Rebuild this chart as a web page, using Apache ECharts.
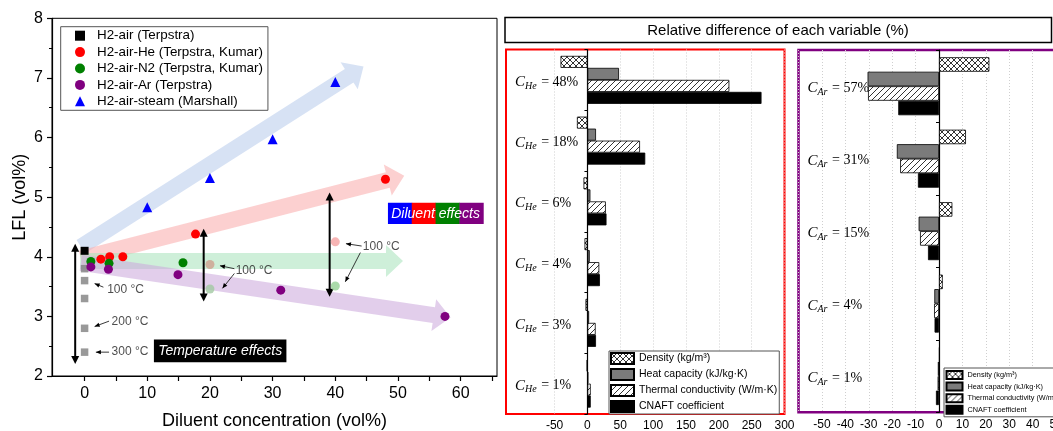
<!DOCTYPE html>
<html><head><meta charset="utf-8">
<script src="https://cdn.jsdelivr.net/npm/echarts@6/dist/echarts.min.js"></script>
<style>html,body{margin:0;padding:0;background:#fff}#c{width:1053px;height:431px}</style>
</head><body><div id="c"></div>
<script>
// ---------- Left chart data ----------
const legendNames = ['H2-air (Terpstra)','H2-air-He (Terpstra, Kumar)','H2-air-N2 (Terpstra, Kumar)','H2-air-Ar (Terpstra)','H2-air-steam (Marshall)'];
const h2air = [[0, 4.1]];
const h2airHe = [[2.6, 3.96],[4.0, 4.0],[6.1, 4.0],[17.7, 4.38],[48.0, 5.3]];
const h2airN2 = [[1.0, 3.92],[3.9, 3.89],[15.7, 3.9]];
const h2airAr = [[1.0, 3.83],[3.8, 3.79],[14.9, 3.7],[31.3, 3.44],[57.5, 3.0]];
const h2airSteam = [[10, 4.83],[20, 5.32],[30, 5.97],[40, 6.93]];
const tempPoints = [[0, 3.8],[0, 3.6],[0, 3.3],[0, 2.8],[0, 2.4]];
const hot100Points = [[20, 3.87],[20, 3.46],[40, 4.25],[40, 3.51]];
const xLabelValues = [0,10,20,30,40,50,60];
const xTickValues = [0,5,10,15,20,25,30,35,40,45,50,55,60,65];
// annotation geometry in data units: [x1,y1,x2(tip),y2(tip)]
const bandArrows = [[-0.6, 4.17, 44.5, 7.19],[-0.6, 3.97, 51.0, 5.36],[-0.7, 3.93, 50.8, 3.93],[-0.6, 3.9, 58.4, 2.98]];
const doubleArrows = [[-1.5, 2.2, -1.5, 4.22],[19.0, 3.25, 19.0, 4.47],[39.1, 3.33, 39.1, 5.08]];
const noteArrows = [[3.0, 3.49, 1.6, 3.55],[3.9, 2.92, 1.6, 2.83],[3.9, 2.4, 1.8, 2.4],[23.9, 3.8, 21.6, 3.85],[23.9, 3.72, 22.0, 3.47],[44.2, 4.18, 41.7, 4.22],[44.0, 4.07, 41.6, 3.58]];
const noteTextPos = [[3.6, 3.44],[4.3, 2.91],[4.3, 2.4],[24.1, 3.76],[44.4, 4.17]];
const noteTextNames = ['100 °C','200 °C','300 °C','100 °C','100 °C'];
const boxes = [[48.4, 4.906, 63.6, 4.55, 0],[11.06, 2.614, 32.2, 2.23, 1]];
const boxTexts = ['Diluent effects','Temperature effects'];

// ---------- Bar panels data ----------
const heCats = ['48%','18%','6%','4%','3%','1%'];
const heDensity = [-41, -16, -6, -4.5, -3, -1];
const heHeat = [48, 13, 4.5, 3.5, 2.5, 1.2];
const heThermal = [216, 80, 28, 18, 12.5, 5];
const heCnaft = [265, 88, 29, 19, 13, 5];
const arCats = ['57%','31%','15%','4%','1%'];
const arDensity = [21.5, 11.5, 5.7, 1.6, 0.3];
const arHeat = [-30.5, -18, -8.7, -2, -0.5];
const arThermal = [-30.3, -16.6, -8.1, -2.1, -0.6];
const arCnaft = [-17.4, -9, -4.7, -1.9, -1.3];
const barNames = ['Density (kg/m³)','Heat capacity (kJ/kg·K)','Thermal conductivity (W/m·K)','CNAFT coefficient'];
const heXLabels = [-50,0,50,100,150,200,250,300];

// ---------- styles / layout ----------
const SANS = '"Liberation Sans", Arial, sans-serif';
const SERIF = '"Liberation Serif", "DejaVu Serif", serif';
const bandColors = ['rgba(190,208,238,0.62)','rgba(250,170,170,0.55)','rgba(170,228,190,0.58)','rgba(205,170,220,0.58)'];
const hotColors = ['#cfa08f','#a3c9a3','#f5a3a3','#95d195'];
const heMin = -124, heMax = 300;
const midGrid = {left:506, top:49.5, width:278.5, height:364.5};
const hePx = midGrid.width / (heMax - heMin);
// helper grid sharing the He panel's x scale, starting at -50 so its 50-step grid lines match
const heGuideGrid = {left: midGrid.left + (-50 - heMin) * hePx, top: midGrid.top, width: 350 * hePx, height: midGrid.height};

function pattern(cross){
  const s = 6, c = document.createElement('canvas');
  c.width = s; c.height = s;
  const g = c.getContext('2d');
  g.fillStyle = '#fff'; g.fillRect(0,0,s,s);
  g.strokeStyle = '#000'; g.lineWidth = 0.8;
  g.beginPath();
  g.moveTo(0,s); g.lineTo(s,0);
  g.moveTo(-s/2,s/2); g.lineTo(s/2,-s/2);
  g.moveTo(s/2,1.5*s); g.lineTo(1.5*s,s/2);
  if (cross){
    g.moveTo(0,0); g.lineTo(s,s);
    g.moveTo(-s/2,s/2); g.lineTo(s/2,1.5*s);
    g.moveTo(s/2,-s/2); g.lineTo(1.5*s,s/2);
  }
  g.stroke();
  return c;
}
const barFills = [{image: pattern(true), repeat:'repeat'}, '#7b7b7b', {image: pattern(false), repeat:'repeat'}, '#000'];

function blockArrow(params, api){
  const p1 = api.coord([api.value(0), api.value(1)]);
  const p2 = api.coord([api.value(2), api.value(3)]);
  const dx = p2[0]-p1[0], dy = p2[1]-p1[1], L = Math.hypot(dx,dy);
  const ux = dx/L, uy = dy/L, nx = -uy, ny = ux;
  const hw = 8, HW = 16, HL = 17;
  const bx = p2[0]-ux*HL, by = p2[1]-uy*HL;
  const pts = [[p1[0]+nx*hw,p1[1]+ny*hw],[bx+nx*hw,by+ny*hw],[bx+nx*HW,by+ny*HW],[p2[0],p2[1]],[bx-nx*HW,by-ny*HW],[bx-nx*hw,by-ny*hw],[p1[0]-nx*hw,p1[1]-ny*hw]];
  return {type:'polygon', shape:{points:pts}, style:{fill: bandColors[params.dataIndex]}};
}
function head(tip, from, len, half){
  const dx = tip[0]-from[0], dy = tip[1]-from[1], L = Math.hypot(dx,dy);
  const ux = dx/L, uy = dy/L, nx = -uy, ny = ux;
  const bx = tip[0]-ux*len, by = tip[1]-uy*len;
  return {type:'polygon', shape:{points:[[tip[0],tip[1]],[bx+nx*half,by+ny*half],[bx-nx*half,by-ny*half]]}, style:{fill:'#000'}};
}
function dblArrow(params, api){
  const p1 = api.coord([api.value(0), api.value(1)]);
  const p2 = api.coord([api.value(2), api.value(3)]);
  return {type:'group', children:[
    {type:'line', shape:{x1:p1[0],y1:p1[1]-4,x2:p2[0],y2:p2[1]+4}, style:{stroke:'#000', lineWidth:2}},
    head(p1, p2, 8, 4), head(p2, p1, 8, 4)
  ]};
}
function noteArrow(params, api){
  const p1 = api.coord([api.value(0), api.value(1)]);
  const p2 = api.coord([api.value(2), api.value(3)]);
  return {type:'group', children:[
    {type:'line', shape:{x1:p1[0],y1:p1[1],x2:p2[0],y2:p2[1]}, style:{stroke:'#222', lineWidth:0.9}},
    head(p2, p1, 5, 2.2)
  ]};
}
function boxItem(params, api){
  const a = api.coord([api.value(0), api.value(1)]);
  const b = api.coord([api.value(2), api.value(3)]);
  const kind = api.value(4);
  const w = b[0]-a[0], h = b[1]-a[1];
  const children = [];
  if (kind === 0){
    const cols = ['#0000ff','#ff0000','#008000','#800080'];
    cols.forEach((c,i)=>children.push({type:'rect', shape:{x:a[0]+i*w/4, y:a[1], width:w/4+0.5, height:h}, style:{fill:c}}));
  } else {
    children.push({type:'rect', shape:{x:a[0], y:a[1], width:w, height:h}, style:{fill:'#000'}});
  }
  children.push({type:'text', style:{text: boxTexts[kind], x:a[0]+w/2, y:a[1]+h/2+0.5, fill:'#fff', font:'italic 14px ' + SANS, align:'center', verticalAlign:'middle'}});
  return {type:'group', children};
}

function catLabel(sub){
  return {
    inside: true, margin: 9, padding:[4,0,0,0],
    formatter: v => '{c|C}{s|' + sub + '}{t| = ' + v + '}',
    rich: {
      c:{fontFamily:SERIF, fontStyle:'italic', fontSize:15, color:'#000'},
      s:{fontFamily:SERIF, fontStyle:'italic', fontSize:10, color:'#000', padding:[8,1,0,0]},
      t:{fontFamily:SERIF, fontSize:14, color:'#000'}
    }
  };
}

const scatterStyle = (name, data, symbol, size, color) => ({
  name, type:'scatter', xAxisIndex:0, yAxisIndex:0, data, symbol, symbolSize:size,
  itemStyle:{color, opacity:1}, z:6
});

const gridLineStyle = {color:'#cfcfcf', type:[1,2], width:1};
const barSeries = [];
[[heDensity,heHeat,heThermal,heCnaft],[arDensity,arHeat,arThermal,arCnaft]].forEach((grp, gi) => {
  grp.forEach((vals, i) => {
    barSeries.push({
      name: barNames[i], type:'bar', xAxisIndex: gi+1, yAxisIndex: gi===0 ? 1 : 3,
      data: vals, barWidth: gi===0 ? 12 : 14.5, barGap:'0%',
      itemStyle:{color: barFills[i], borderColor:'#000', borderWidth:0.8},
      z:3
    });
  });
});

const chart = echarts.init(document.getElementById('c'), null, {renderer:'canvas'});
const option = {
  animation:false,
  backgroundColor:'#fff',
  textStyle:{fontFamily:SANS},
  grid:[
    {left:52, top:18.3, width:445, height:357.7, show:true, borderColor:'#000', borderWidth:1, outerBoundsMode:'none'},
    Object.assign({show:true, borderColor:'#ff0000', borderWidth:2, outerBoundsMode:'none'}, midGrid),
    {left:798.5, top:50, width:257.6, height:362.3, show:true, borderColor:'#800080', borderWidth:2.5, outerBoundsMode:'none'},
    Object.assign({show:false, outerBoundsMode:'none'}, heGuideGrid)
  ],
  legend:[
    {data: legendNames, left:60.7, top:26.7, orient:'vertical', itemWidth:10, itemHeight:10, itemGap:0.4,
     padding:[1,5,1,14.3], borderColor:'#555', borderWidth:1, backgroundColor:'#fff',
     textStyle:{fontSize:13.4, color:'#000', lineHeight:16, fontFamily:SANS, padding:[0,0,0,7]}},
    {data: barNames, left:609, top:351, orient:'vertical', itemWidth:23, itemHeight:11, itemGap:3,
     padding:[1,2,1,1], borderColor:'#555', borderWidth:1, backgroundColor:'#fff', icon:'rect',
     textStyle:{fontSize:10.5, color:'#000', lineHeight:11, fontFamily:SANS}},
    {data: barNames, left:944, top:368, orient:'vertical', itemWidth:16, itemHeight:8, itemGap:1.6,
     padding:[2,4,2,1.5], borderColor:'#555', borderWidth:1, backgroundColor:'#fff', icon:'rect',
     textStyle:{fontSize:7.3, color:'#000', lineHeight:8, fontFamily:SANS}}
  ],
  xAxis:[
    {type:'value', gridIndex:0, min:-5.2, max:65.8,
     name:'Diluent concentration (vol%)', nameLocation:'middle', nameGap:36,
     nameTextStyle:{fontSize:18, color:'#000', fontFamily:SANS},
     axisLine:{show:true, onZero:false, lineStyle:{color:'#000', width:1.2}},
     axisTick:{show:true, length:5, customValues:xTickValues, lineStyle:{color:'#000', width:1.2}},
     axisLabel:{customValues:xLabelValues, fontSize:16, color:'#000', margin:10, fontFamily:SANS},
     splitLine:{show:false}},
    {type:'value', gridIndex:1, min:heMin, max:heMax,
     axisLine:{show:false},
     axisTick:{show:false, customValues:heXLabels},
     axisLabel:{customValues:heXLabels, fontSize:12, color:'#000', margin:6, fontFamily:SANS},
     splitLine:{show:false}},
    {type:'value', gridIndex:2, min:-60, max:50, interval:10,
     axisLine:{show:false}, axisTick:{show:false},
     axisLabel:{fontSize:12, color:'#000', margin:6, showMinLabel:false, fontFamily:SANS},
     splitLine:{show:true, lineStyle:gridLineStyle}},
    {type:'value', gridIndex:3, min:-50, max:300, interval:50,
     axisLine:{show:false, onZero:false}, axisTick:{show:false}, axisLabel:{show:false},
     splitLine:{show:true, lineStyle:gridLineStyle}}
  ],
  yAxis:[
    {type:'value', gridIndex:0, min:2, max:8, interval:1,
     name:'LFL (vol%)', nameLocation:'middle', nameGap:23,
     nameTextStyle:{fontSize:18, color:'#000', fontFamily:SANS},
     axisLine:{show:true, onZero:false, lineStyle:{color:'#000', width:1.2}},
     axisTick:{show:true, length:5, lineStyle:{color:'#000', width:1.2}},
     minorTick:{show:true, splitNumber:2, length:3, lineStyle:{color:'#000', width:1}},
     axisLabel:{fontSize:16, color:'#000', margin:9, fontFamily:SANS},
     splitLine:{show:false}},
    {type:'category', gridIndex:1, data:heCats, inverse:true, position:'left',
     axisLine:{show:false, onZero:false}, axisTick:{show:false}, axisLabel:catLabel('He')},
    {type:'category', gridIndex:1, data:heCats, inverse:true, position:'left',
     axisLine:{show:true, onZero:true, lineStyle:{color:'#000', width:1.2}},
     axisTick:{show:true, length:3, lineStyle:{color:'#000'}}, axisLabel:{show:false}},
    {type:'category', gridIndex:2, data:arCats, inverse:true, position:'left',
     axisLine:{show:false, onZero:false}, axisTick:{show:false}, axisLabel:catLabel('Ar')},
    {type:'category', gridIndex:2, data:arCats, inverse:true, position:'left',
     axisLine:{show:true, onZero:true, lineStyle:{color:'#000', width:1.2}},
     axisTick:{show:true, length:3, lineStyle:{color:'#000'}}, axisLabel:{show:false}},
    {type:'value', gridIndex:3, min:0, max:1, show:false}
  ],
  graphic:[
    {type:'rect', shape:{x:505, y:17.5, width:546.5, height:25}, style:{fill:'#fff', stroke:'#000', lineWidth:1.5}, z:10},
    {type:'text', x:778, y:30.5, style:{text:'Relative difference of each variable (%)', font:'15px ' + SANS, fill:'#000', align:'center', verticalAlign:'middle'}, z:11}
  ],
  series:[
    {type:'custom', name:'bands', xAxisIndex:0, yAxisIndex:0, data:bandArrows, renderItem:blockArrow, z:1, silent:true},
    {type:'custom', name:'dbl', xAxisIndex:0, yAxisIndex:0, data:doubleArrows, renderItem:dblArrow, z:4, silent:true},
    {type:'custom', name:'notes', xAxisIndex:0, yAxisIndex:0, data:noteArrows, renderItem:noteArrow, z:4, silent:true},
    {type:'scatter', name:'noteText', xAxisIndex:0, yAxisIndex:0, symbolSize:0,
     data: noteTextPos.map((p,i)=>({value:p, name:noteTextNames[i]})),
     label:{show:true, position:[0,0], formatter:'{b}', fontSize:12, color:'#222', align:'left', verticalAlign:'middle', fontFamily:SANS}, z:4, silent:true},
    {type:'custom', name:'boxes', xAxisIndex:0, yAxisIndex:0, data:boxes, renderItem:boxItem, z:5, silent:true},
    {type:'scatter', name:'temp', xAxisIndex:0, yAxisIndex:0, data:tempPoints, symbol:'rect', symbolSize:7.5, itemStyle:{color:'#808080'}, z:6},
    {type:'scatter', name:'hot', xAxisIndex:0, yAxisIndex:0, symbol:'circle', symbolSize:9,
     data: hot100Points.map((p,i)=>({value:p, itemStyle:{color:hotColors[i]}})), z:6},
    scatterStyle(legendNames[0], h2air, 'rect', 8, '#000'),
    scatterStyle(legendNames[1], h2airHe, 'circle', 9, '#ff0000'),
    scatterStyle(legendNames[2], h2airN2, 'circle', 9, '#008000'),
    scatterStyle(legendNames[3], h2airAr, 'circle', 9, '#800080'),
    scatterStyle(legendNames[4], h2airSteam, 'triangle', 10, '#0000ff'),
    ...barSeries
  ]
};
chart.setOption(option);
</script></body></html>
